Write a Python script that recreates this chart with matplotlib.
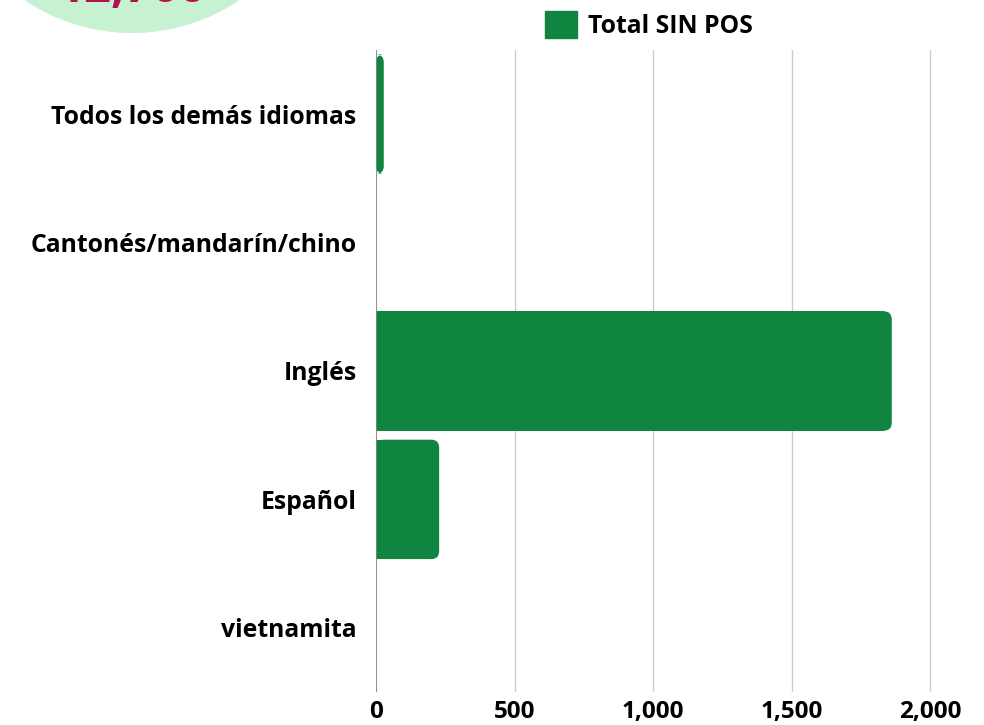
import matplotlib
matplotlib.use("Agg")
import matplotlib.pyplot as plt
from matplotlib import patches

categories = ["Todos los demás idiomas", "Cantonés/mandarín/chino", "Inglés", "Español", "vietnamita"]
values = [28, 0, 1862, 228, 0]
series_name = "Total SIN POS"
xticks = [0, 500, 1000, 1500, 2000]
xticklabels = ["0", "500", "1,000", "1,500", "2,000"]
badge_text = "12,700"

green = "#10853f"
plt.rcParams['font.family'] = ['Open Sans', 'DejaVu Sans']

fig = plt.figure(figsize=(9.84, 7.25), dpi=100)
ax = fig.add_axes([376/984, 1-692/725, (940-376)/984, (692-50)/725])

ypos = list(range(len(categories)))
bars = ax.barh(ypos, values, height=0.93, color=green, label=series_name)
ax.set_xlim(0, 2000 * (940-376) / (930-376))
ax.set_ylim(len(categories)-0.5, -0.5)

# rounded right ends
rx = 8 * 2000 / (930-376)
for b in bars:
    w = b.get_width()
    if w <= 0:
        continue
    b.set_visible(False)
    x0, y0, h = b.get_x(), b.get_y(), b.get_height()
    r = min(rx, w)
    ax.add_patch(patches.FancyBboxPatch((x0, y0), w, h,
                 boxstyle=patches.BoxStyle("Round", pad=0, rounding_size=r),
                 mutation_aspect=(8/128)/rx, fc=green, ec="none", zorder=3))
    if w > 2*r:
        ax.add_patch(patches.Rectangle((x0, y0), w-r, h, fc=green, ec="none",
                                       antialiased=False, zorder=3))

ax.set_yticks(ypos)
ax.set_yticklabels(categories, fontsize=17.8, fontweight='bold')
ax.set_xticks(xticks)
ax.set_xticklabels(xticklabels, fontsize=17.5, fontweight='bold')
ax.tick_params(axis='y', length=0, pad=14)
ax.tick_params(axis='x', length=0, pad=6)
ax.grid(axis='x', color="#cccccc", lw=1, zorder=0)
ax.set_axisbelow(True)
for s in ax.spines.values():
    s.set_visible(False)
ax.axvline(0, color="#888888", lw=1.2, zorder=4)

ax.legend(handles=[patches.Patch(color=green)], labels=[series_name],
          loc='lower center', bbox_to_anchor=((649-376)/(940-376), 1.0), frameon=False,
          prop={'weight': 'bold', 'size': 17.8}, handlelength=1.3, handleheight=1.3,
          handletextpad=0.45, borderaxespad=0.05)

# badge circle at top left, mostly cut off
fig.add_artist(patches.Circle((1.32, 8.84), 1.92, transform=fig.dpi_scale_trans,
                              fc="#c6f2d1", ec="none"))
fig.text(1.32, 7.23, badge_text, transform=fig.dpi_scale_trans, ha='center',
         va='baseline', fontsize=34, fontweight='bold', color="#b3124c")

fig.savefig("out.png", dpi=100)
